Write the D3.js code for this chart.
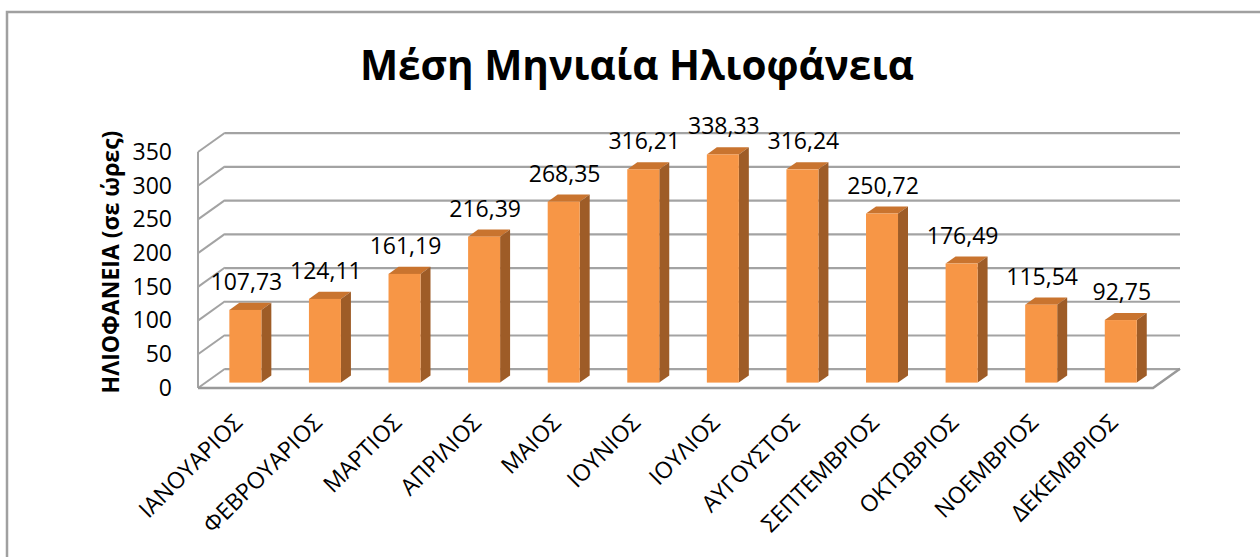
<!DOCTYPE html>
<html>
<head>
<meta charset="utf-8">
<script src="https://cdn.jsdelivr.net/npm/d3@7"></script>
<style>
  body { margin: 0; background: #fff; }
  svg { display: block; font-family: "Open Sans", sans-serif; }
</style>
</head>
<body>
<div id="chart"></div>
<script>
const months = ["ΙΑΝΟΥΑΡΙΟΣ", "ΦΕΒΡΟΥΑΡΙΟΣ", "ΜΑΡΤΙΟΣ", "ΑΠΡΙΛΙΟΣ", "ΜΑΙΟΣ", "ΙΟΥΝΙΟΣ",
                "ΙΟΥΛΙΟΣ", "ΑΥΓΟΥΣΤΟΣ", "ΣΕΠΤΕΜΒΡΙΟΣ", "ΟΚΤΩΒΡΙΟΣ", "ΝΟΕΜΒΡΙΟΣ", "ΔΕΚΕΜΒΡΙΟΣ"];
const hours = [107.73, 124.11, 161.19, 216.39, 268.35, 316.21, 338.33, 316.24, 250.72, 176.49, 115.54, 92.75];
const yTicks = [0, 50, 100, 150, 200, 250, 300, 350];
const title = "Μέση Μηνιαία Ηλιοφάνεια";
const yTitle = "ΗΛΙΟΦΑΝΕΙΑ (σε ώρες)";

function drawChart(tagName) {
    const W = 1260, H = 557;
    // front plane of the 3d box
    const left = 198, right = 1153, bottom = 388, top = 152;
    // depth offset of the back wall
    const dx = 27, dy = -19.3;
    const tFront = 0.28, tBack = 0.65;   // bar position inside the depth
    const gridColor = "#a3a3a3";

    const svg = d3.select(tagName)
        .append("svg")
        .attr("width", W)
        .attr("height", H);

    // chart frame
    svg.append("rect")
        .attr("x", 7).attr("y", 12)
        .attr("width", W + 10).attr("height", H)
        .attr("fill", "#fff")
        .attr("stroke", "#a0a0a0")
        .attr("stroke-width", 2.5);

    const xScale = d3.scaleBand()
        .domain(months)
        .range([left, right]);

    const yScale = d3.scaleLinear()
        .domain([0, 350])
        .range([bottom, top]);

    // back wall gridlines
    const back = svg.append("g")
        .attr("transform", `translate(${left + dx}, ${dy})`)
        .call(d3.axisLeft(yScale)
            .tickValues(yTicks)
            .tickSize(-(right - left))
            .tickFormat(""));
    back.select(".domain").remove();
    back.selectAll(".tick line")
        .attr("stroke", gridColor)
        .attr("stroke-width", 2.2);

    // side wall diagonals
    svg.append("g")
        .selectAll("line")
        .data(yTicks)
        .enter()
        .append("line")
        .attr("x1", left)
        .attr("y1", d => yScale(d))
        .attr("x2", left + dx)
        .attr("y2", d => yScale(d) + dy)
        .attr("stroke", gridColor)
        .attr("stroke-width", 2);

    // side wall front edge
    svg.append("line")
        .attr("x1", left).attr("y1", yScale(350))
        .attr("x2", left).attr("y2", yScale(0))
        .attr("stroke", gridColor)
        .attr("stroke-width", 2);

    // floor
    svg.append("path")
        .attr("d", `M${left},${yScale(0)} L${right},${yScale(0)} L${right + dx},${yScale(0) + dy}`)
        .attr("fill", "none")
        .attr("stroke", "#999")
        .attr("stroke-width", 2.4);

    // y tick labels
    const yAxis = svg.append("g")
        .attr("transform", `translate(${left - 26}, 0)`)
        .call(d3.axisLeft(yScale)
            .tickValues(yTicks)
            .tickSize(0)
            .tickPadding(0));
    yAxis.select(".domain").remove();
    yAxis.selectAll("text")
        .attr("font-family", "Open Sans")
        .attr("font-size", 23)
        .attr("fill", "#000");

    // bars
    const barW = 32;
    const bx = d => xScale(d) + xScale.bandwidth() / 2 + tFront * dx - barW / 2;
    const sx = (tBack - tFront) * dx, sy = (tBack - tFront) * dy;
    const yb = v => yScale(v) + tFront * dy;

    const bars = svg.append("g")
        .selectAll("g")
        .data(months.map((m, i) => [m, hours[i]]))
        .enter()
        .append("g");

    bars.append("path")   // top
        .attr("d", d => {
            const x = bx(d[0]), y = yb(d[1]);
            return `M${x},${y} L${x + sx},${y + sy} L${x + barW + sx},${y + sy} L${x + barW},${y} Z`;
        })
        .attr("fill", "#c9742f");

    bars.append("path")   // side
        .attr("d", d => {
            const x = bx(d[0]) + barW, y = yb(d[1]), y0 = yb(0);
            return `M${x},${y} L${x + sx},${y + sy} L${x + sx},${y0 + sy} L${x},${y0} Z`;
        })
        .attr("fill", "#9e5c27");

    bars.append("rect")   // front
        .attr("x", d => bx(d[0]))
        .attr("y", d => yb(d[1]))
        .attr("width", barW)
        .attr("height", d => yb(0) - yb(d[1]))
        .attr("fill", "#f79646");

    // value labels
    bars.append("text")
        .text(d => d[1].toFixed(2).replace(".", ","))
        .attr("x", d => bx(d[0]) + barW / 2 + 1)
        .attr("y", d => yb(d[1]) - 20)
        .attr("text-anchor", "middle")
        .attr("font-size", 23)
        .attr("fill", "#000");

    // x labels
    svg.append("g")
        .selectAll("text")
        .data(months)
        .enter()
        .append("text")
        .text(d => d)
        .attr("transform", d => `translate(${xScale(d) + xScale.bandwidth() / 2 + 6}, ${bottom + 36}) rotate(-45)`)
        .attr("text-anchor", "end")
        .attr("font-size", 23)
        .attr("fill", "#000");

    // title
    svg.append("text")
        .attr("x", 637)
        .attr("y", 80)
        .attr("text-anchor", "middle")
        .attr("font-size", 40.5)
        .attr("font-weight", "bold")
        .attr("fill", "#000")
        .text(title);

    // y axis title
    svg.append("text")
        .attr("transform", `translate(119, 262) rotate(-90)`)
        .attr("text-anchor", "middle")
        .attr("font-size", 23)
        .attr("font-weight", "bold")
        .attr("fill", "#000")
        .text(yTitle);
}

drawChart("#chart");
</script>
</body>
</html>
